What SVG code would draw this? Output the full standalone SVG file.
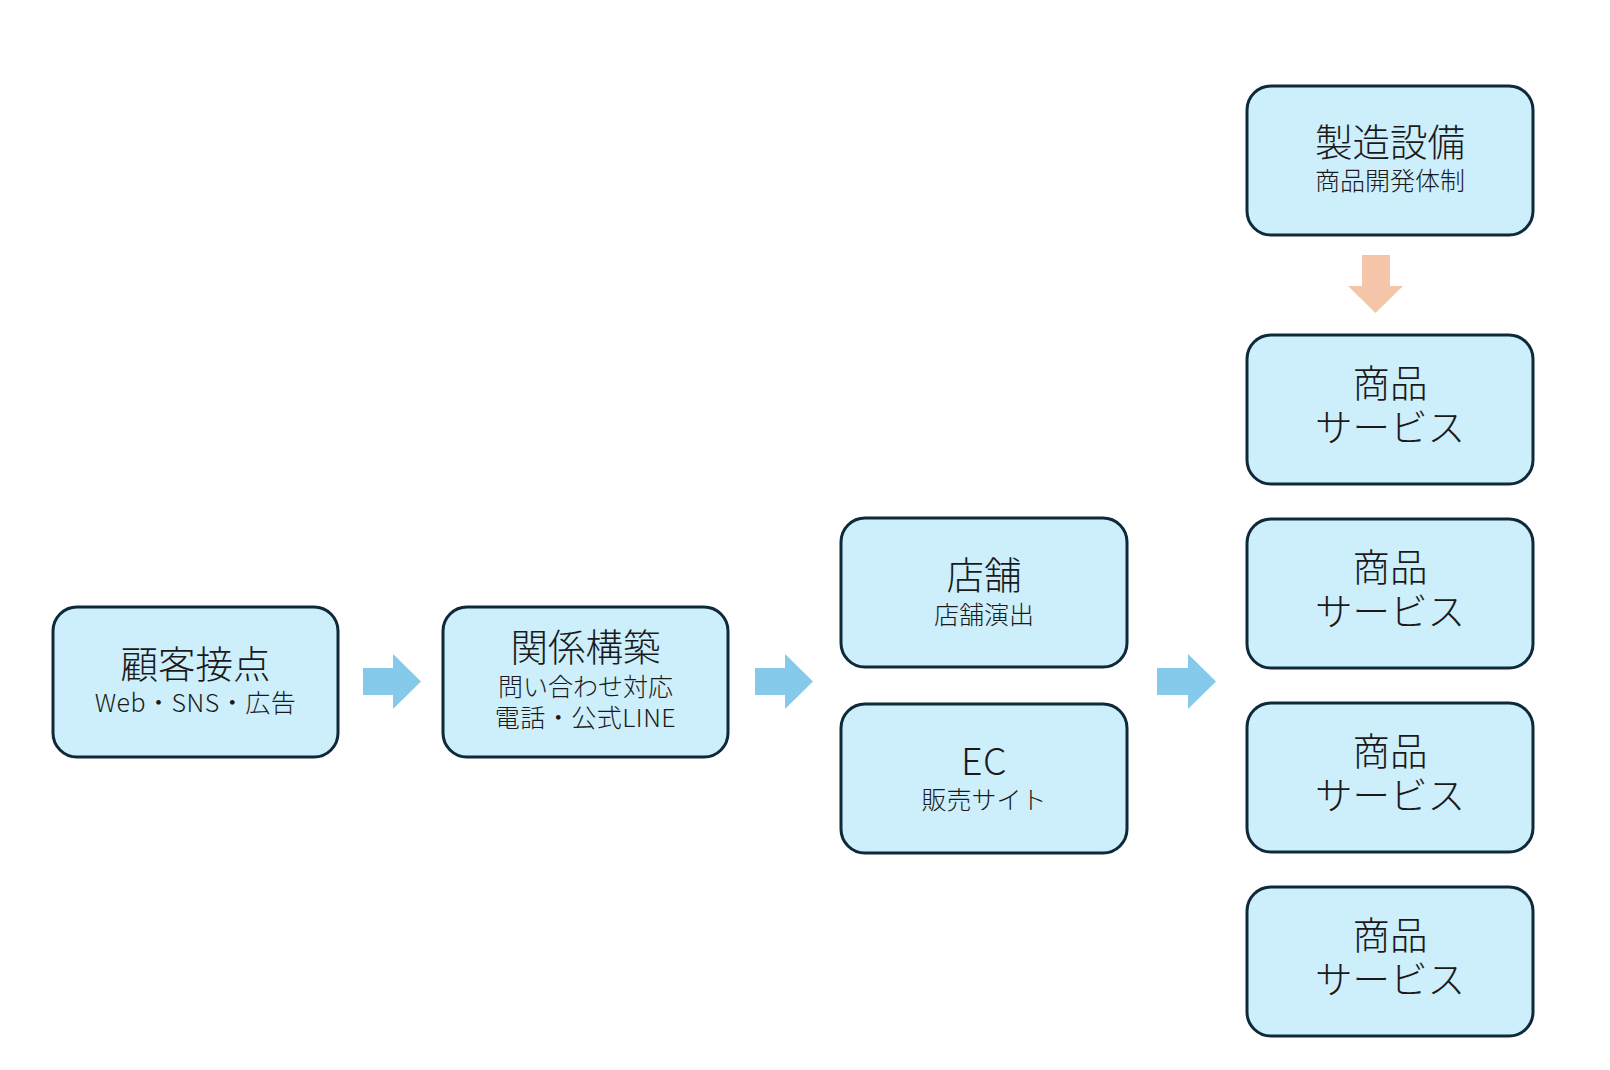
<svg xmlns="http://www.w3.org/2000/svg" width="1610" height="1070" viewBox="0 0 1610 1070">
<style>
.box{fill:#CDEEFB;stroke:#0E2A3A;stroke-width:3}
text{font-family:"Noto Sans CJK JP","Noto Sans",sans-serif;fill:#1a1a1a;text-anchor:middle;font-weight:300}
.t{font-size:37.5px}
.s{font-size:25px}
.l{letter-spacing:0.5px}
.ab{fill:#85CAEB}
.ap{fill:#F5C5AA}
</style>
<rect width="1610" height="1070" fill="#fff"/>
<g id="connectors">
<polygon class="ab" points="363,668 393,668 393,654 421,681.5 393,709 393,695 363,695"/>
<polygon class="ab" points="755,668 785,668 785,654 813,681.5 785,709 785,695 755,695"/>
<polygon class="ab" points="1157,668 1188,668 1188,654 1216,681.5 1188,709 1188,695 1157,695"/>
<polygon class="ap" points="1362,255 1390,255 1390,286 1403,286 1375.5,313 1348,286 1362,286"/>
</g>
<g id="n1"><rect class="box" x="53" y="607" width="285" height="150" rx="24"/><text class="t" x="195.5" y="678">顧客接点</text><text class="s l" x="195.5" y="712">Web・SNS・広告</text></g>
<g id="n2"><rect class="box" x="443" y="607" width="285" height="150" rx="24"/><text class="t" x="585.5" y="661">関係構築</text><text class="s" x="585.5" y="696">問い合わせ対応</text><text class="s l" x="585.5" y="727">電話・公式LINE</text></g>
<g id="n3"><rect class="box" x="841" y="518" width="286" height="149" rx="24"/><text class="t" x="984" y="589">店舗</text><text class="s" x="984" y="624">店舗演出</text></g>
<g id="n4"><rect class="box" x="841" y="704" width="286" height="149" rx="24"/><text class="t l" x="984" y="775">EC</text><text class="s" x="984" y="809">販売サイト</text></g>
<g id="n5"><rect class="box" x="1247" y="86" width="286" height="149" rx="24"/><text class="t" x="1390" y="156">製造設備</text><text class="s" x="1390" y="190">商品開発体制</text></g>
<g id="n6"><rect class="box" x="1247" y="335" width="286" height="149" rx="24"/><text class="t" x="1390" y="397">商品</text><text class="t" x="1390" y="441">サービス</text></g>
<g id="n7"><rect class="box" x="1247" y="519" width="286" height="149" rx="24"/><text class="t" x="1390" y="581">商品</text><text class="t" x="1390" y="625">サービス</text></g>
<g id="n8"><rect class="box" x="1247" y="703" width="286" height="149" rx="24"/><text class="t" x="1390" y="765">商品</text><text class="t" x="1390" y="809">サービス</text></g>
<g id="n9"><rect class="box" x="1247" y="887" width="286" height="149" rx="24"/><text class="t" x="1390" y="949">商品</text><text class="t" x="1390" y="993">サービス</text></g>
</svg>
